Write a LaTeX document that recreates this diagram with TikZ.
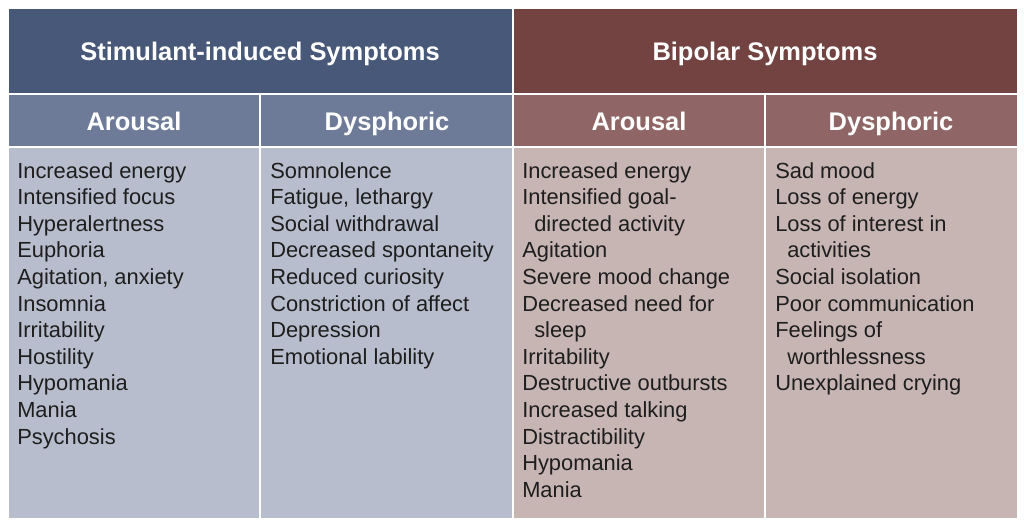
\documentclass[tikz,border=0pt]{standalone}
\usepackage{fontspec}
\setmainfont{Liberation Sans}
\definecolor{bluedark}{HTML}{485878}
\definecolor{bluemid}{HTML}{6D7B98}
\definecolor{bluelight}{HTML}{B7BDCC}
\definecolor{reddark}{HTML}{724341}
\definecolor{redmid}{HTML}{8F6665}
\definecolor{redlight}{HTML}{C7B5B4}
\definecolor{bodytext}{HTML}{1E1E1E}
\tikzset{
  headtxt/.style={anchor=base, inner sep=0pt, text=white, font=\fontsize{19.1}{22}\selectfont\bfseries},
  bodytxt/.style={anchor=base west, inner sep=0pt, text=bodytext, font=\fontsize{16.4}{19}\selectfont},
  sep/.style={draw=white, line width=1.5pt}
}
\newcommand{\cont}{\hspace*{9pt}}
\begin{document}
\begin{tikzpicture}[x=0.75pt,y=-0.75pt]
\useasboundingbox (0,0) rectangle (1024,528);
% cell fills
\fill[bluedark] (8,8) rectangle (513,94);
\fill[reddark] (513,8) rectangle (1017,94);
\fill[bluemid] (8,94) rectangle (513,147);
\fill[redmid] (513,94) rectangle (1017,147);
\fill[bluelight] (8,147) rectangle (513,518);
\fill[redlight] (513,147) rectangle (1017,518);
% white separators
\draw[sep] (8,94) -- (1017,94);
\draw[sep] (8,147) -- (1017,147);
\draw[sep] (513,8) -- (513,518);
\draw[sep] (260,94) -- (260,518);
\draw[sep] (765,94) -- (765,518);
\draw[white, line width=0.6pt] (8,8) rectangle (1017,518);
% headers
\node[headtxt] (h1) at (260,61) {Stimulant-induced Symptoms};
\node[headtxt] (h2) at (765,61) {Bipolar Symptoms};
\node[headtxt] (s1) at (134,130) {Arousal};
\node[headtxt] (s2) at (387,130) {Dysphoric};
\node[headtxt] (s3) at (639,130) {Arousal};
\node[headtxt] (s4) at (891,130) {Dysphoric};
% body columns
\foreach \t [count=\i] in {Increased energy, Intensified focus, Hyperalertness, Euphoria, {Agitation, anxiety}, Insomnia, Irritability, Hostility, Hypomania, Mania, Psychosis}
  \node[bodytxt] (a\i) at (17,{178+26.6*(\i-1)}) {\t};
\foreach \t [count=\i] in {Somnolence, {Fatigue, lethargy}, Social withdrawal, Decreased spontaneity, Reduced curiosity, Constriction of affect, Depression, Emotional lability}
  \node[bodytxt] (b\i) at (270,{178+26.6*(\i-1)}) {\t};
\foreach \t [count=\i] in {Increased energy, Intensified goal-, \cont directed activity, Agitation, Severe mood change, Decreased need for, \cont sleep, Irritability, Destructive outbursts, Increased talking, Distractibility, Hypomania, Mania}
  \node[bodytxt] (c\i) at (522,{178+26.6*(\i-1)}) {\t};
\foreach \t [count=\i] in {Sad mood, Loss of energy, Loss of interest in, \cont activities, Social isolation, Poor communication, Feelings of, \cont worthlessness, Unexplained crying}
  \node[bodytxt] (d\i) at (775,{178+26.6*(\i-1)}) {\t};
\end{tikzpicture}
\end{document}
